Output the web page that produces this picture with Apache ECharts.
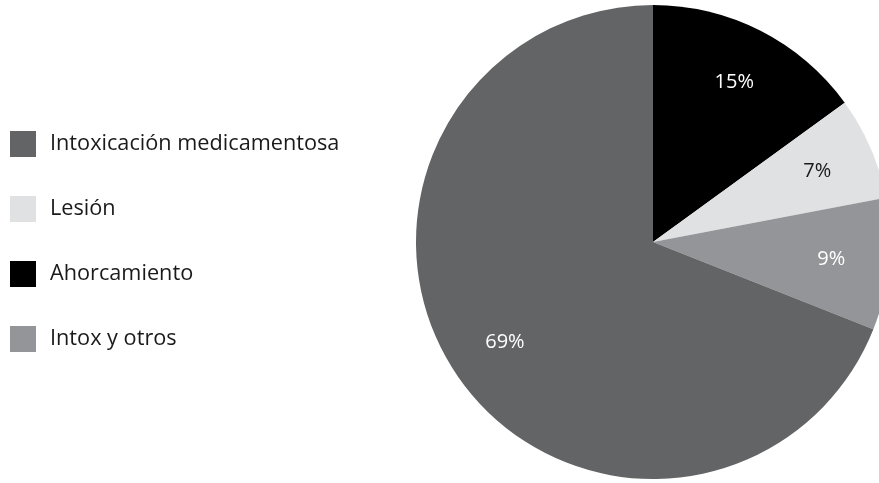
<!DOCTYPE html>
<html>
<head>
<meta charset="utf-8">
<style>
  html, body { margin: 0; padding: 0; background: #ffffff; }
  #chart { width: 879px; height: 483px; }
</style>
<script src="https://cdn.jsdelivr.net/npm/echarts@6/dist/echarts.min.js"></script>
</head>
<body>
<div id="chart"></div>
<script>
// Slices in clockwise order from 12 o'clock
const categories = ['Ahorcamiento', 'Lesión', 'Intox y otros', 'Intoxicación medicamentosa'];
const shares = [15, 7, 9, 69];
const sliceColors = ['#000000', '#e0e1e3', '#939598', '#636466'];
const labelColors = ['#ffffff', '#1a1a1a', '#ffffff', '#ffffff'];
// Legend lists the categories in this order
const legendOrder = ['Intoxicación medicamentosa', 'Lesión', 'Ahorcamiento', 'Intox y otros'];

const FONT = '"Open Sans", "Noto Sans", sans-serif';
const center = [653, 242];
const outerRadius = 237;

const sliceData = categories.map((name, i) => ({
  name,
  value: shares[i],
  itemStyle: { color: sliceColors[i] }
}));

// Transparent ring whose mid-radius carries the percentage labels
const labelData = categories.map((name, i) => ({
  name,
  value: shares[i],
  label: { color: labelColors[i] }
}));

const chart = echarts.init(document.getElementById('chart'), null, { renderer: 'canvas' });
chart.setOption({
  animation: false,
  backgroundColor: '#ffffff',
  legend: {
    orient: 'vertical',
    left: 5,
    top: 126,
    data: legendOrder,
    icon: 'rect',
    itemWidth: 26,
    itemHeight: 26,
    itemGap: 39,
    selectedMode: false,
    textStyle: { fontFamily: FONT, fontSize: 21.7, color: '#1a1a1a', padding: [0, 0, 0, 9] }
  },
  series: [
    {
      type: 'pie',
      center,
      radius: [0, outerRadius],
      startAngle: 90,
      clockwise: true,
      silent: true,
      label: { show: false },
      labelLine: { show: false },
      itemStyle: { borderWidth: 0 },
      data: sliceData
    },
    {
      type: 'pie',
      center,
      radius: [114, 238],
      startAngle: 90,
      clockwise: true,
      silent: true,
      legendHoverLink: false,
      itemStyle: { color: 'rgba(0,0,0,0)', borderWidth: 0 },
      label: {
        show: true,
        position: 'inside',
        formatter: '{c}%',
        fontFamily: FONT,
        fontSize: 20
      },
      labelLine: { show: false },
      data: labelData
    }
  ]
});
</script>
</body>
</html>
